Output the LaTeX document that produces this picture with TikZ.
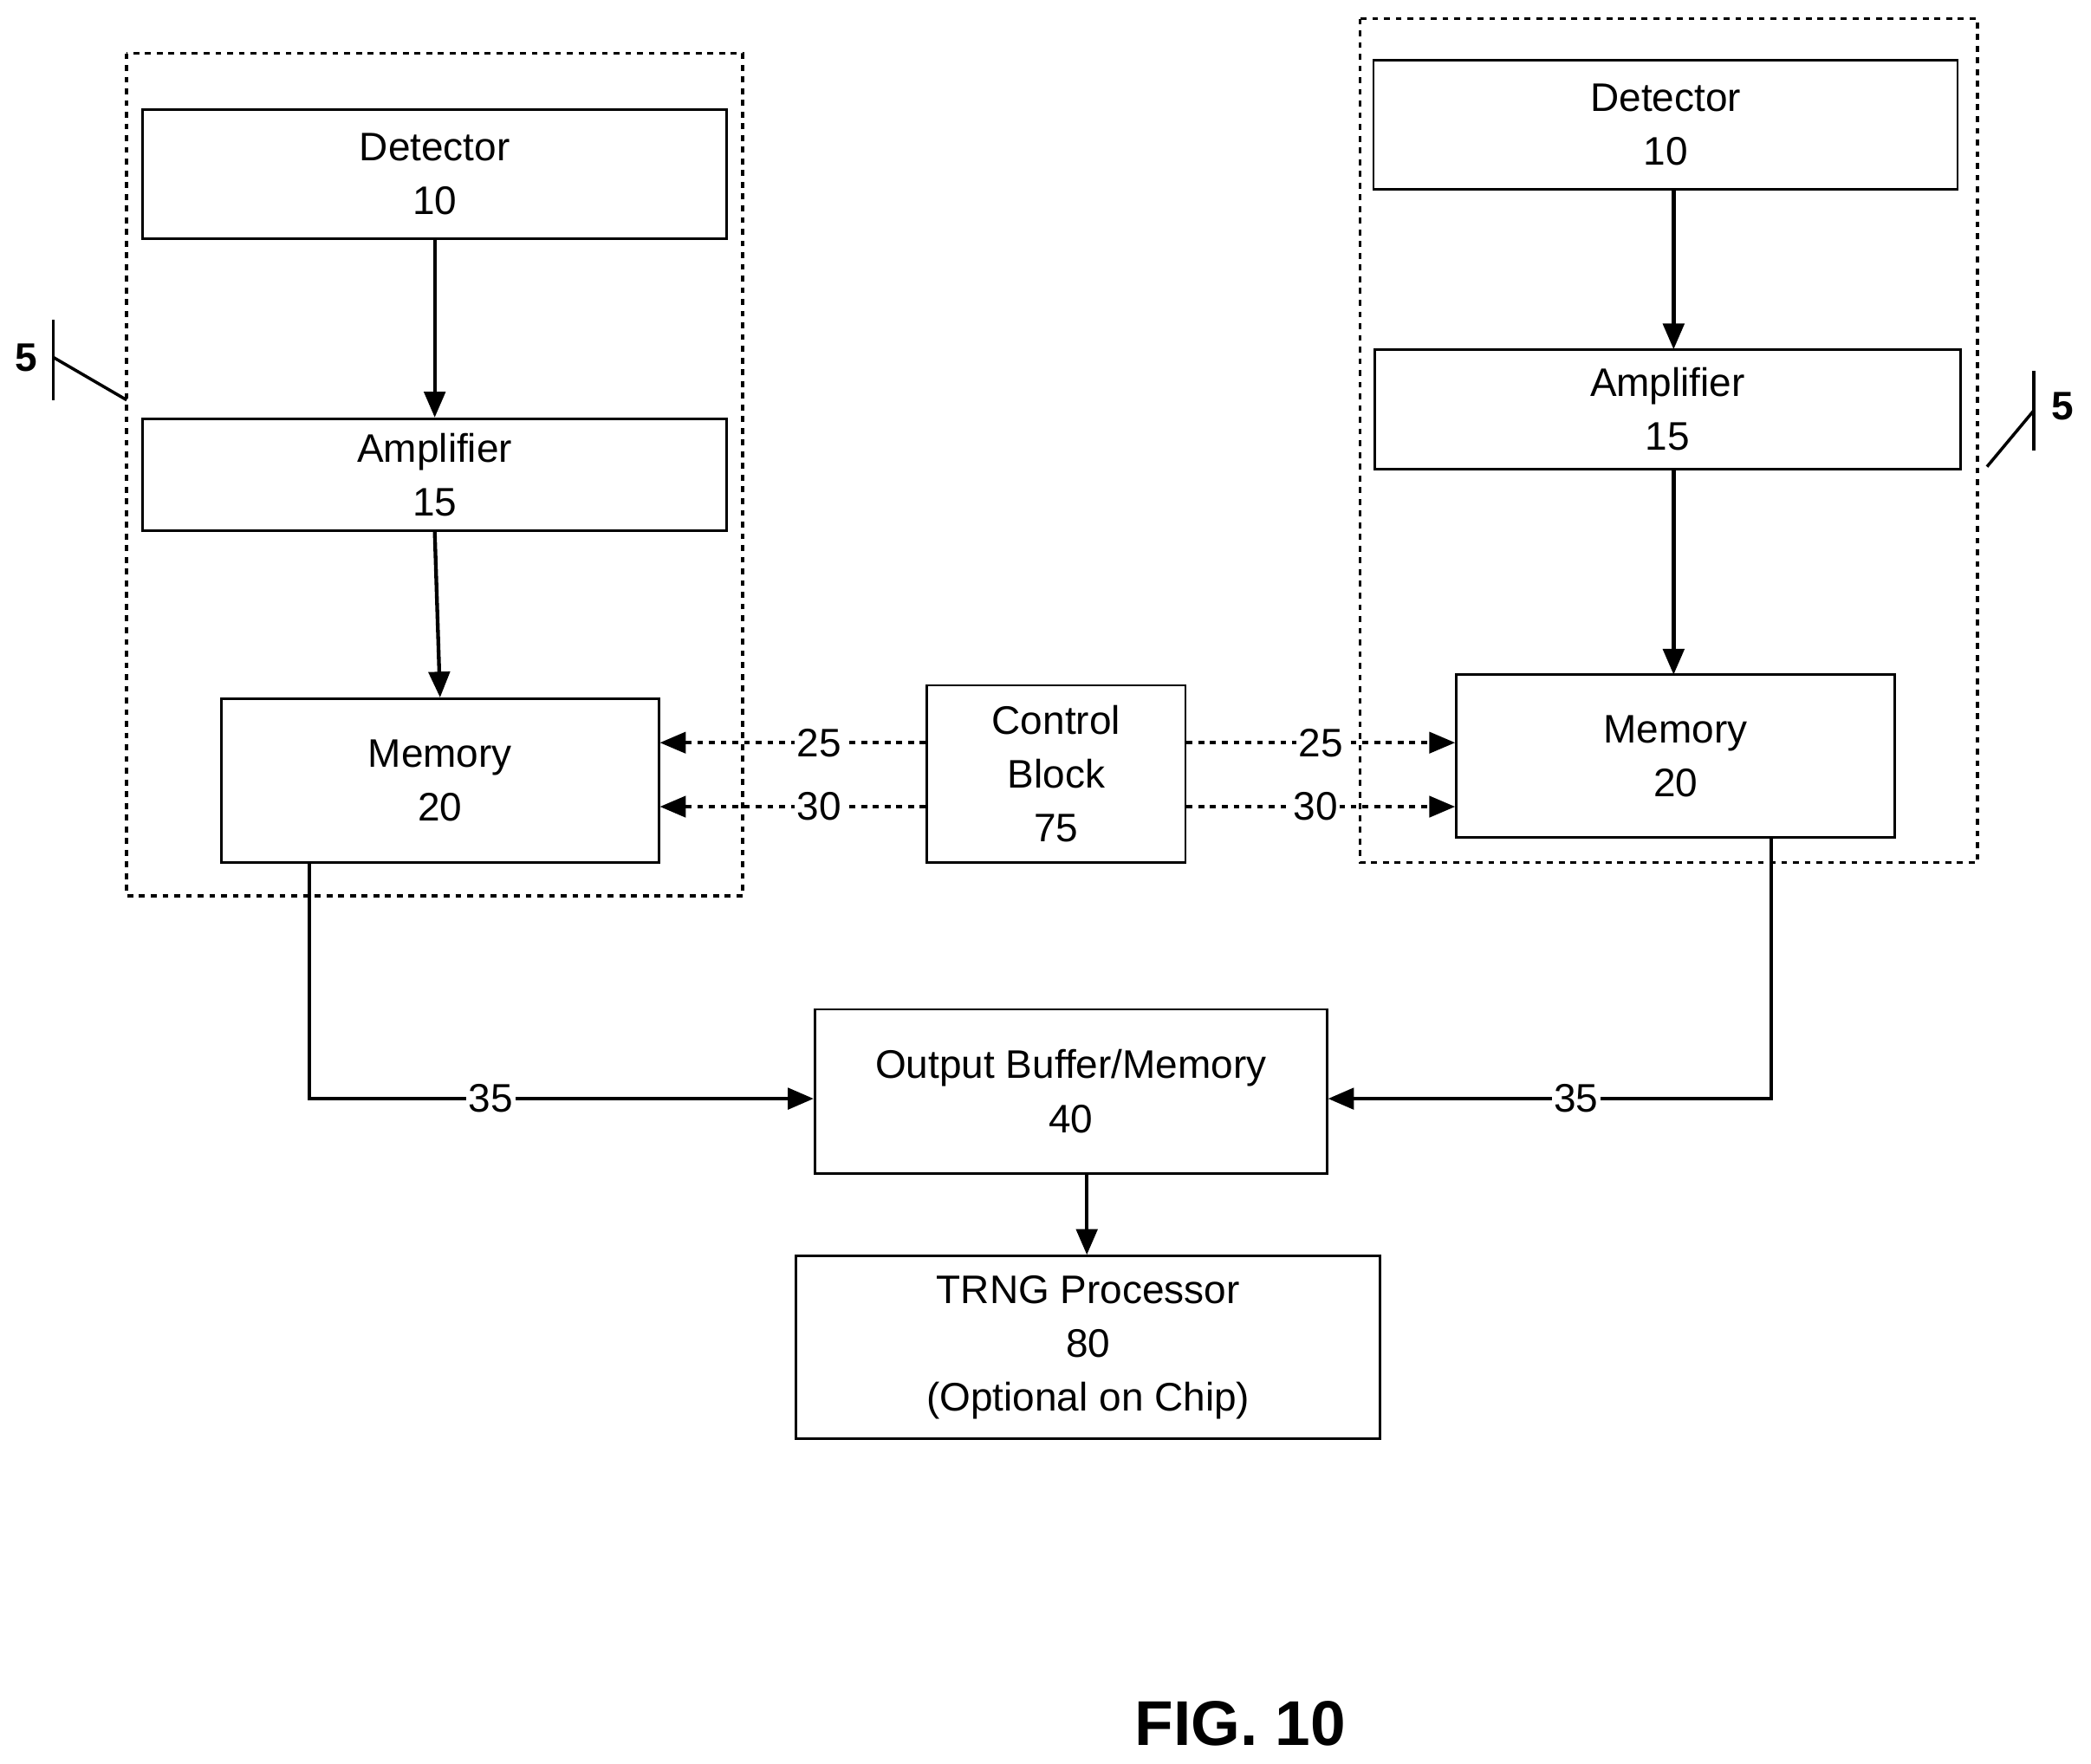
\documentclass[tikz,border=0pt]{standalone}
\usepackage{fontspec}
\setmainfont{Liberation Sans}
\usetikzlibrary{arrows.meta}
\begin{document}
\begin{tikzpicture}[x=0.02cm,y=-0.02cm,
 box/.style={draw,line width=1pt,align=center,inner sep=0pt,font=\fontsize{17}{23}\selectfont},
 grp/.style={draw,line width=1.3pt,dash pattern=on 2.5pt off 2.5pt},
 arr/.style={line width=1.6pt,-{Triangle[length=11pt,width=9pt]}},
 darr/.style={line width=1.3pt,dash pattern=on 2.5pt off 2.5pt,-{Triangle[length=11pt,width=9pt]}},
 lab/.style={fill=white,inner sep=1pt,font=\fontsize{17}{20}\selectfont}]
\useasboundingbox (0,0) rectangle (1568,1323);
\draw[grp] (95,40) rectangle (557,672);
\draw[grp] (1020,14) rectangle (1483,647);
\node[box,minimum width=438*0.02cm,minimum height=97*0.02cm] (dl) at (326,130.5) {Detector\\10};
\node[box,minimum width=438*0.02cm,minimum height=84*0.02cm] (al) at (326,356) {Amplifier\\15};
\node[box,minimum width=328*0.02cm,minimum height=123*0.02cm] (ml) at (330,585.5) {Memory\\20};
\node[box,minimum width=438*0.02cm,minimum height=97*0.02cm] (dr) at (1249,93.5) {Detector\\10};
\node[box,minimum width=439*0.02cm,minimum height=90*0.02cm] (ar) at (1250.5,307) {Amplifier\\15};
\node[box,minimum width=329*0.02cm,minimum height=122*0.02cm] (mr) at (1256.5,567) {Memory\\20};
\node[box,minimum width=194*0.02cm,minimum height=133*0.02cm] (cb) at (792,580.5) {Control\\Block\\75};
\node[box,minimum width=384*0.02cm,minimum height=123*0.02cm] (ob) at (803,818.5) {Output Buffer/Memory\\40};
\node[box,minimum width=438*0.02cm,minimum height=137*0.02cm] (tp) at (816,1010.5) {TRNG Processor\\80\\(Optional on Chip)};
\draw[arr] (dl.south) -- (al.north);
\draw[arr] (al.south) -- (ml.north);
\draw[arr] (1255,142) -- (1255,262);
\draw[arr] (1255,352) -- (1255,506);
\draw[darr] (cb.west|-0,557) -- (ml.east|-0,557) node[lab,pos=0.4]{25};
\draw[darr] (cb.west|-0,605) -- (ml.east|-0,605) node[lab,pos=0.4]{30};
\draw[darr] (cb.east|-0,557) -- (mr.west|-0,557) node[lab,pos=0.5]{25};
\draw[darr] (cb.east|-0,605) -- (mr.west|-0,605) node[lab,pos=0.48]{30};
\draw[arr] (232,647) |- (ob.west|-0,824) node[lab,pos=0.68]{35};
\draw[arr] (1328,628) |- (ob.east|-0,824) node[lab,pos=0.72]{35};
\draw[arr] (815,880) -- (tp.north-|815,0);
\node[font=\bfseries\fontsize{17}{20}\selectfont] (f5l) at (20,268) {5};
\coordinate (t1) at (40,240); \coordinate (t2) at (40,300);
\draw[line width=1.3pt] (t1) -- (t2);
\draw[line width=1.3pt] (40,268) -- (95,300);
\node[font=\bfseries\fontsize{17}{20}\selectfont] (f5r) at (1547,305) {5};
\draw[line width=1.3pt] (1525,278) -- (1525,338);
\draw[line width=1.3pt] (1525,308) -- (1490,350);
\node[font=\bfseries\fontsize{27}{30}\selectfont] (fig) at (930,1293) {FIG. 10};
\end{tikzpicture}
\end{document}
